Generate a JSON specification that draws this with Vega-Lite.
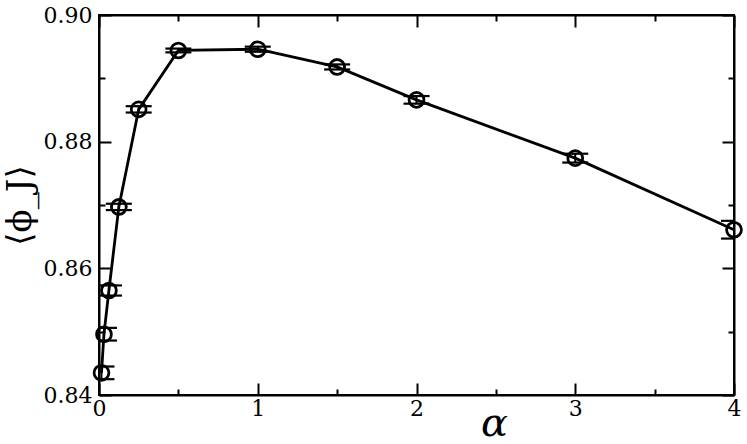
{
  "$schema": "https://vega.github.io/schema/vega-lite/v6.json",
  "autosize": "none",
  "width": 635,
  "height": 380,
  "padding": {"left": 99, "top": 15, "right": 13, "bottom": 49},
  "background": "white",
  "config": {
    "font": "DejaVu Serif",
    "view": {"stroke": "black", "strokeWidth": 2},
    "axis": {
      "grid": false,
      "domainColor": "black",
      "domainWidth": 2,
      "tickColor": "black",
      "tickWidth": 2,
      "labelFont": "DejaVu Serif",
      "labelFontSize": 22,
      "labelColor": "black",
      "titleFont": "DejaVu Serif",
      "titleColor": "black",
      "titleFontWeight": "normal"
    }
  },
  "data": {
    "values": [
      {"alpha": 0.015625, "phi": 0.8435, "lo": 0.8425, "hi": 0.8445},
      {"alpha": 0.03125, "phi": 0.8496, "lo": 0.8486, "hi": 0.8506},
      {"alpha": 0.0625, "phi": 0.8565, "lo": 0.8557, "hi": 0.8573},
      {"alpha": 0.125, "phi": 0.8697, "lo": 0.8692, "hi": 0.8702},
      {"alpha": 0.25, "phi": 0.8851, "lo": 0.8846, "hi": 0.8856},
      {"alpha": 0.5, "phi": 0.8944, "lo": 0.8941, "hi": 0.8947},
      {"alpha": 1, "phi": 0.8946, "lo": 0.8942, "hi": 0.8950},
      {"alpha": 1.5, "phi": 0.8918, "lo": 0.8914, "hi": 0.8922},
      {"alpha": 2, "phi": 0.8866, "lo": 0.8860, "hi": 0.8872},
      {"alpha": 3, "phi": 0.8774, "lo": 0.8767, "hi": 0.8781},
      {"alpha": 4, "phi": 0.8661, "lo": 0.8647, "hi": 0.8675}
    ]
  },
  "resolve": {"axis": {"x": "independent", "y": "independent"}},
  "layer": [
    {
      "mark": {"type": "line", "color": "black", "strokeWidth": 2.8},
      "encoding": {
        "x": {
          "field": "alpha", "type": "quantitative",
          "scale": {"domain": [0, 4], "nice": false, "zero": false},
          "axis": {
            "orient": "bottom", "values": [0, 1, 2, 3, 4], "tickSize": -12,
            "labelPadding": 15, "labelFlush": false, "format": "d",
            "title": "α", "titleFontSize": 40, "titleFontStyle": "italic",
            "titleX": 395, "titleY": 40, "titleBaseline": "alphabetic", "titleAlign": "center"
          }
        },
        "y": {
          "field": "phi", "type": "quantitative",
          "scale": {"domain": [0.84, 0.9], "nice": false, "zero": false},
          "axis": {
            "orient": "left", "values": [0.84, 0.86, 0.88, 0.9], "tickSize": -12,
            "labelPadding": 19, "format": ".2f",
            "title": "⟨ϕ_J⟩", "titleFontSize": 34, "titlePadding": 6
          }
        }
      }
    },
    {
      "mark": {"type": "rule", "color": "black", "strokeWidth": 2, "opacity": 1, "clip": true},
      "encoding": {
        "x": {
          "field": "alpha", "type": "quantitative",
          "axis": {"orient": "bottom", "values": [0.5, 1.5, 2.5, 3.5], "tickSize": -6, "labels": false, "domain": false, "title": null}
        },
        "y": {
          "field": "lo", "type": "quantitative",
          "axis": {"orient": "left", "values": [0.85, 0.87, 0.89], "tickSize": -6, "labels": false, "domain": false, "title": null}
        },
        "y2": {"field": "hi"}
      }
    },
    {
      "mark": {"type": "tick", "orient": "horizontal", "color": "black", "opacity": 1, "size": 26, "thickness": 2.2, "clip": true},
      "encoding": {
        "x": {
          "field": "alpha", "type": "quantitative",
          "axis": {"orient": "top", "values": [0, 1, 2, 3, 4], "tickSize": -12, "labels": false, "title": null}
        },
        "y": {
          "field": "lo", "type": "quantitative",
          "axis": {"orient": "right", "values": [0.84, 0.86, 0.88, 0.9], "tickSize": -12, "labels": false, "title": null}
        }
      }
    },
    {
      "mark": {"type": "tick", "orient": "horizontal", "color": "black", "opacity": 1, "size": 26, "thickness": 2.2, "clip": true},
      "encoding": {
        "x": {
          "field": "alpha", "type": "quantitative",
          "axis": {"orient": "top", "values": [0.5, 1.5, 2.5, 3.5], "tickSize": -6, "labels": false, "domain": false, "title": null}
        },
        "y": {
          "field": "hi", "type": "quantitative",
          "axis": {"orient": "right", "values": [0.85, 0.87, 0.89], "tickSize": -6, "labels": false, "domain": false, "title": null}
        }
      }
    },
    {
      "mark": {"type": "point", "shape": "circle", "filled": false, "color": "black", "strokeWidth": 2.8, "size": 220, "opacity": 1},
      "encoding": {
        "x": {"field": "alpha", "type": "quantitative", "axis": null},
        "y": {"field": "phi", "type": "quantitative", "axis": null}
      }
    }
  ]
}
